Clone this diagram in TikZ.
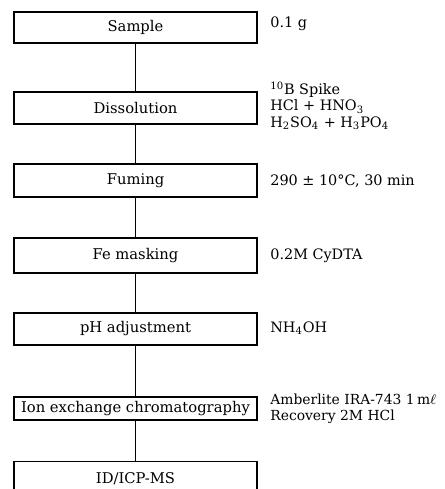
\documentclass[tikz,border=0pt]{standalone}
\usepackage{fontspec}
\setmainfont{DejaVu Serif}

\begin{document}
\begin{tikzpicture}[x=0.02cm, y=-0.02cm,
    stepbox/.style={draw, line width=0.7pt, minimum width=4.86cm, inner sep=0pt,
        font=\fontsize{8.4}{9.5}\selectfont},
    cond/.style={anchor=west, inner sep=0pt, align=left,
        font=\fontsize{8.2}{9.4}\selectfont},
    link/.style={line width=0.6pt}]

\clip (0,0) rectangle (444,489);

% process steps
\node[stepbox, minimum height=0.62cm] (sample) at (135.5,27.5) {Sample};
\node[stepbox, minimum height=0.64cm] (dissolution) at (135.5,108) {Dissolution};
\node[stepbox, minimum height=0.66cm] (fuming) at (135.5,180.5) {Fuming};
\node[stepbox, minimum height=0.70cm] (femask) at (135.5,255.5) {Fe masking};
\node[stepbox, minimum height=0.64cm] (phadj) at (135.5,329) {pH adjustment};
\node[stepbox, minimum height=0.46cm] (ionex) at (135.5,408.5) {Ion exchange chromatography};
\node[stepbox, minimum height=0.70cm] (icpms) at (135.5,479) {ID/ICP-MS};

% conditions
\node[cond] (sample-lbl) at (270,24) {0.1 g};
\node[cond] (dissolution-lbl) at (270,106) {\textsuperscript{10}B Spike\\
    HCl + HNO\textsubscript{3}\\
    H\textsubscript{2}SO\textsubscript{4} + H\textsubscript{3}PO\textsubscript{4}};
\node[cond] (fuming-lbl) at (270,181) {290 ± 10°C, 30 min};
\node[cond] (femask-lbl) at (270,256) {0.2M CyDTA};
\node[cond] (phadj-lbl) at (270,328) {NH\textsubscript{4}OH};
\node[cond, font=\fontsize{7.9}{9.4}\selectfont] (ionex-lbl) at (270,409)
    {Amberlite IRA-743 1\,m$\ell$\\ Recovery 2M HCl};

% links
\draw[link] (sample) -- (dissolution);
\draw[link] (dissolution) -- (fuming);
\draw[link] (fuming) -- (femask);
\draw[link] (femask) -- (phadj);
\draw[link] (phadj) -- (ionex);
\draw[link] (ionex) -- (icpms);

\end{tikzpicture}
\end{document}
